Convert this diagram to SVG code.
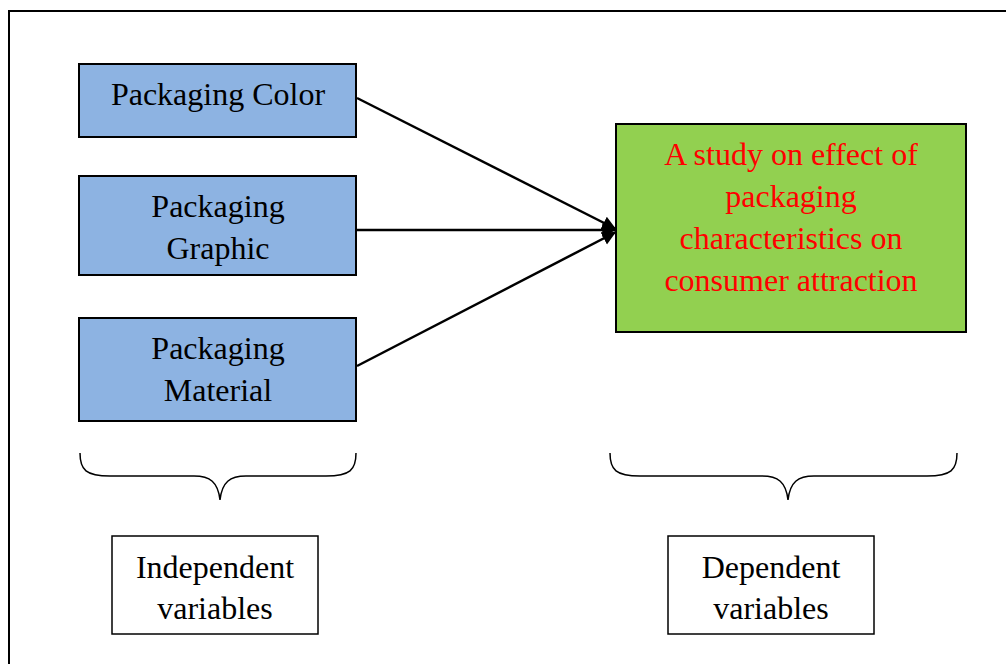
<svg xmlns="http://www.w3.org/2000/svg" width="1006" height="664" viewBox="0 0 1006 664">
<style>
  .t{font-family:"Liberation Serif","Times New Roman",serif;font-size:32px;text-anchor:middle;fill:#000}
  .red{fill:#ff0000}
  .blue{fill:#8db3e2;stroke:#000;stroke-width:2}
  .green{fill:#92d050;stroke:#000;stroke-width:2}
  .plain{fill:#fff;stroke:#000;stroke-width:1.5}
  .conn{stroke:#000;stroke-width:2.5;fill:none}
  .brace{stroke:#000;stroke-width:1.5;fill:none}
</style>
<defs>
  <marker id="ah" viewBox="0 0 10 10" refX="10" refY="5" markerWidth="5.5" markerHeight="6.5" orient="auto" markerUnits="strokeWidth">
    <path d="M0,0 L10,5 L0,10 Z" fill="#000"/>
  </marker>
</defs>
<rect x="0" y="0" width="1006" height="664" fill="#fff"/>
<path d="M9,664 V11 H1006" fill="none" stroke="#000" stroke-width="2"/>

<g id="color">
  <rect class="blue" x="79" y="64" width="277" height="73"/>
  <text class="t" x="218" y="105">Packaging Color</text>
</g>
<g id="graphic">
  <rect class="blue" x="79" y="176" width="277" height="99"/>
  <text class="t" x="218" y="217">Packaging</text>
  <text class="t" x="218" y="259">Graphic</text>
</g>
<g id="material">
  <rect class="blue" x="79" y="318" width="277" height="103"/>
  <text class="t" x="218" y="359">Packaging</text>
  <text class="t" x="218" y="401">Material</text>
</g>
<g id="study">
  <rect class="green" x="616" y="124" width="350" height="208"/>
  <text class="t red" x="791" y="165">A study on effect of</text>
  <text class="t red" x="791" y="207">packaging</text>
  <text class="t red" x="791" y="249">characteristics on</text>
  <text class="t red" x="791" y="291">consumer attraction</text>
</g>
<g id="independent">
  <path class="brace" d="M80,453 C80,470 86,476 110,476 H194 C210,476 218,482 220,500 C222,482 230,476 246,476 H326 C350,476 356,470 356,453"/>
  <rect class="plain" x="112" y="536" width="206" height="98"/>
  <text class="t" x="215" y="578">Independent</text>
  <text class="t" x="215" y="619">variables</text>
</g>
<g id="dependent">
  <path class="brace" d="M610,453 C610,470 616,476 640,476 H762 C778,476 786,482 788,500 C790,482 798,476 814,476 H927 C951,476 957,470 957,453"/>
  <rect class="plain" x="668" y="536" width="206" height="98"/>
  <text class="t" x="771" y="578">Dependent</text>
  <text class="t" x="771" y="619">variables</text>
</g>
<g id="connectors">
  <line class="conn" x1="357" y1="98" x2="616" y2="229" marker-end="url(#ah)"/>
  <line class="conn" x1="357" y1="230" x2="616" y2="230" marker-end="url(#ah)"/>
  <line class="conn" x1="357" y1="366" x2="616" y2="232" marker-end="url(#ah)"/>
</g>
</svg>
